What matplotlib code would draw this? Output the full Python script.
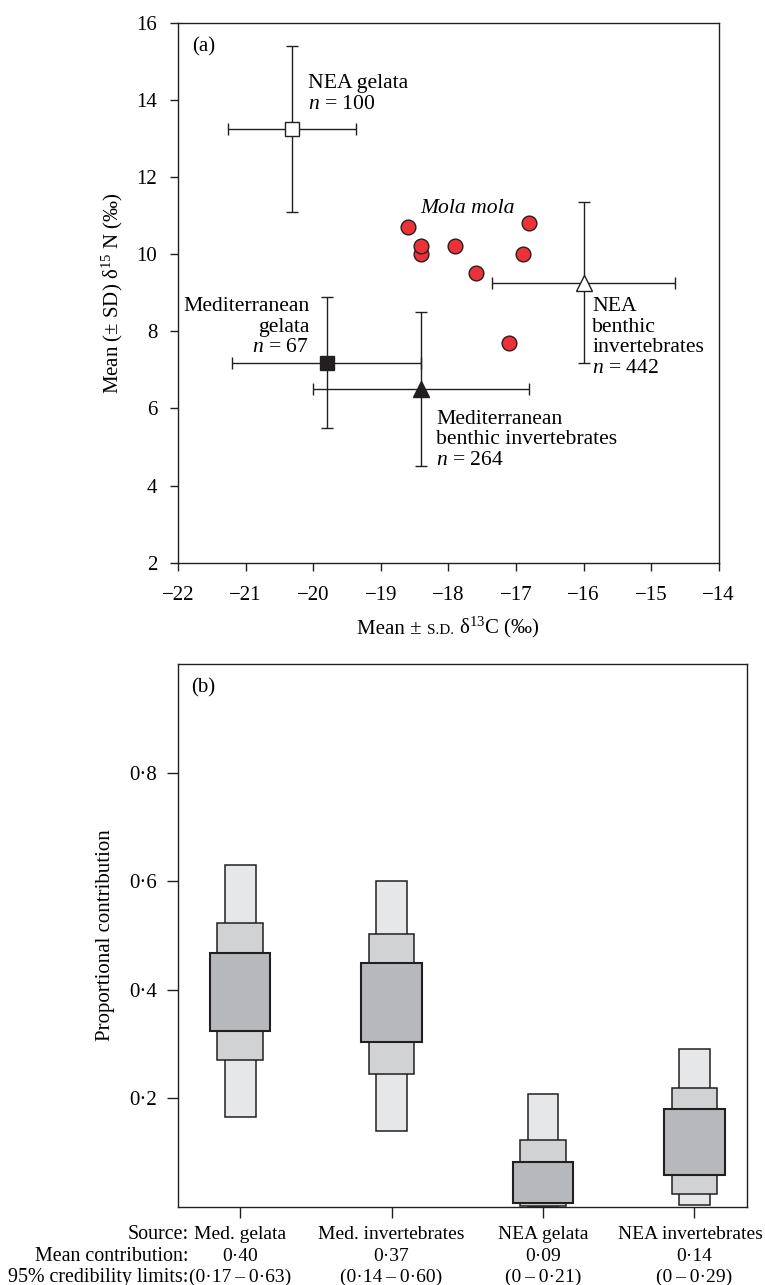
import numpy as np
import matplotlib.pyplot as plt
import matplotlib.transforms as mtransforms
from matplotlib.offsetbox import TextArea, HPacker, AnchoredOffsetbox

plt.rcParams['font.family'] = ['Liberation Serif', 'DejaVu Serif']
plt.rcParams['mathtext.fontset'] = 'custom'
plt.rcParams['mathtext.rm'] = 'Liberation Serif'
plt.rcParams['mathtext.it'] = 'Liberation Serif:italic'
plt.rcParams['font.size'] = 15

# ---- panel (a): source means +/- SD
src_c_mean = [-20.31, -19.80, -18.40, -16.00]
src_c_sd = [0.95, 1.40, 1.60, 1.35]
src_n_mean = [13.24, 7.18, 6.50, 9.26]
src_n_sd = [2.15, 1.70, 2.00, 2.08]

# Mola mola individuals
mola_c = [-18.60, -18.40, -18.40, -17.90, -17.59, -16.80, -16.90, -17.10]
mola_n = [10.70, 10.00, 10.20, 10.20, 9.50, 10.81, 10.00, 7.69]

# ---- panel (b): mixing model credibility intervals
sources = ['Med. gelata', 'Med. invertebrates', 'NEA gelata', 'NEA invertebrates']
mean_contrib = ['0·40', '0·37', '0·09', '0·14']
cred_limits = ['(0·17\u2009–\u20090·63)', '(0·14\u2009–\u20090·60)', '(0\u2009–\u20090·21)', '(0\u2009–\u20090·29)']
ci95_lo = [0.166, 0.139, 0.000, 0.003]
ci95_hi = [0.630, 0.600, 0.208, 0.291]
ci75_lo = [0.270, 0.245, 0.002, 0.024]
ci75_hi = [0.523, 0.503, 0.123, 0.218]
ci50_lo = [0.323, 0.304, 0.006, 0.059]
ci50_hi = [0.468, 0.450, 0.083, 0.180]
yticks_b = [0.2, 0.4, 0.6, 0.8]
yticklabels_b = ['0·2', '0·4', '0·6', '0·8']

dark = '#231f20'
fs_note = 15.6

fig = plt.figure(figsize=(7.65, 12.85), dpi=100)

# ================= (a)
ax1 = fig.add_axes([0.2327, 0.5621, 0.7068, 0.4202])
ax1.errorbar(src_c_mean, src_n_mean, xerr=src_c_sd, yerr=src_n_sd, fmt='none',
             ecolor=dark, elinewidth=1.0, capsize=4, capthick=1.0, zorder=2)
marker_style = [('s', 'white', 9.6), ('s', dark, 9.6), ('^', dark, 11), ('^', 'white', 11)]
for i, (m, fc, ms) in enumerate(marker_style):
    ax1.plot(src_c_mean[i], src_n_mean[i], marker=m, ms=ms, mfc=fc, mec=dark,
             mew=1.0, ls='none', zorder=3)
ax1.plot(mola_c, mola_n, 'o', ms=10.6, mfc='#ed3237', mec=dark, mew=1.0, zorder=4)

ax1.set_xlim(-22, -14)
ax1.set_ylim(2, 16)
ax1.set_xticks(np.arange(-22, -13, 1))
ax1.set_yticks(np.arange(2, 17, 2))
ax1.tick_params(direction='out', length=6, width=1, color=dark, labelsize=15)
ax1.tick_params(axis='x', pad=10.5)
ax1.tick_params(axis='y', pad=9)
for s in ax1.spines.values():
    s.set_linewidth(1.0)
    s.set_color(dark)
ax1.set_ylabel('Mean (± SD) δ$^{15}$ N (‰)', fontsize=15, labelpad=8)

# x label with small-caps style "S.D."
parts = [TextArea('Mean ± ', textprops=dict(fontsize=15)),
         TextArea('S.D.', textprops=dict(fontsize=11)),
         TextArea(' δ$^{13}$C (‰)', textprops=dict(fontsize=15))]
pack = HPacker(children=parts, align='baseline', pad=0, sep=0)
ab = AnchoredOffsetbox(loc='upper center', child=pack, frameon=False,
                       bbox_to_anchor=(0.5, -0.097), bbox_transform=ax1.transAxes,
                       borderpad=0, pad=0)
ax1.add_artist(ab)

ax1.text(0.047, 0.956, '(a)', transform=ax1.transAxes, ha='center', va='center', fontsize=15)
ax1.text(-20.07, 14.66, 'NEA gelata\n$n$ = 100', ha='left', va='top', fontsize=fs_note, linespacing=1.12)
ax1.text(-17.71, 11.06, 'Mola mola', ha='center', va='baseline', fontsize=fs_note, fontstyle='italic')
ax1.text(-20.06, 8.89, 'Mediterranean\ngelata\n$n$ = 67', ha='right', va='top',
         multialignment='right', fontsize=fs_note, linespacing=1.12)
ax1.text(-15.87, 8.89, 'NEA\nbenthic\ninvertebrates\n$n$ = 442', ha='left', va='top',
         fontsize=fs_note, linespacing=1.12)
ax1.text(-18.18, 5.97, 'Mediterranean\nbenthic invertebrates\n$n$ = 264', ha='left', va='top',
         fontsize=fs_note, linespacing=1.12)

# ================= (b)
ax2 = fig.add_axes([0.2327, 0.0609, 0.7434, 0.4223])
xpos = np.arange(len(sources))
ax2.bar(xpos, np.array(ci95_hi) - np.array(ci95_lo), bottom=ci95_lo, width=0.204,
        color='#e6e7e8', edgecolor=dark, linewidth=1.1, zorder=2)
ax2.bar(xpos, np.array(ci75_hi) - np.array(ci75_lo), bottom=ci75_lo, width=0.30,
        color='#d1d2d4', edgecolor=dark, linewidth=1.1, zorder=3)
ax2.bar(xpos, np.array(ci50_hi) - np.array(ci50_lo), bottom=ci50_lo, width=0.40,
        color='#b7b8bb', edgecolor=dark, linewidth=1.5, zorder=4)

ax2.set_xlim(-0.41, 3.345)
ax2.set_ylim(0, 1.0)
ax2.set_xticks(xpos)
ax2.set_xticklabels([])
ax2.set_yticks(yticks_b)
ax2.set_yticklabels(yticklabels_b)
ax2.tick_params(direction='out', length=8, width=1, color=dark, pad=7, labelsize=15)
for s in ax2.spines.values():
    s.set_linewidth(1.0)
    s.set_color(dark)
ax2.set_ylabel('Proportional contribution', fontsize=15, labelpad=10)
ax2.text(0.045, 0.956, '(b)', transform=ax2.transAxes, ha='center', va='center', fontsize=15)

trans = mtransforms.blended_transform_factory(ax2.transData, ax2.transAxes)
row_y = [-0.0595, -0.0991, -0.1390]
row_heads = ['Source:', 'Mean contribution:', '95% credibility limits:']
rows = [sources, mean_contrib, cred_limits]
row_texts = []
for ry, head, labels in zip(row_y, row_heads, rows):
    ax2.text(0.0185, ry, head, transform=ax2.transAxes, ha='right', va='baseline', fontsize=14.4)
    for x, lab in zip(xpos, labels):
        row_texts.append(ax2.text(x, ry, lab, transform=trans, ha='center',
                                  va='baseline', fontsize=14))

# keep the widest labels inside the figure, like the original layout
fig.canvas.draw()
renderer = fig.canvas.get_renderer()
px_per_unit = ax2.transData.transform((1, 0))[0] - ax2.transData.transform((0, 0))[0]
for t in row_texts:
    bb = t.get_window_extent(renderer)
    over = bb.x1 - (fig.bbox.x1 - 2)
    if over > 0:
        x, y = t.get_position()
        t.set_position((x - over / px_per_unit, y))

fig.savefig('out.png', dpi=100)
